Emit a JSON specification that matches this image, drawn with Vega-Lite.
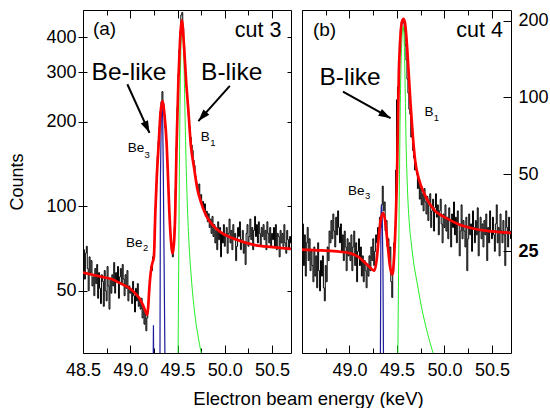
{
"$schema": "https://vega.github.io/schema/vega-lite/v6.json",
"padding": {"left": 8, "top": 9, "right": 0, "bottom": 0},
"background": "white",
"config": {"font": "Liberation Sans", "view": {"stroke": "black", "strokeWidth": 1}, "axis": {"grid": false, "labelColor": "black", "tickColor": "black", "titleColor": "black", "labelFont": "Liberation Sans", "titleFont": "Liberation Sans"}},
"title": {"text": "Electron beam energy (keV)", "orient": "bottom", "anchor": "middle", "font": "Liberation Sans", "fontSize": 18.5, "fontWeight": "normal", "color": "black", "offset": 10, "dx": 30},
"spacing": 9,
"datasets": {
"k3": [
{"e":48.50,"c":62},{"e":48.51,"c":70},{"e":48.52,"c":55},{"e":48.53,"c":68},{"e":48.54,"c":72},{"e":48.55,"c":60},{"e":48.56,"c":50},{"e":48.57,"c":66},{"e":48.58,"c":58},{"e":48.59,"c":64},{"e":48.60,"c":52},
{"e":48.61,"c":56},{"e":48.62,"c":48},{"e":48.63,"c":60},{"e":48.64,"c":53},{"e":48.65,"c":62},{"e":48.66,"c":47},{"e":48.67,"c":58},{"e":48.68,"c":51},{"e":48.69,"c":45},{"e":48.70,"c":57},
{"e":48.71,"c":54},{"e":48.72,"c":44},{"e":48.73,"c":59},{"e":48.74,"c":50},{"e":48.75,"c":46},{"e":48.76,"c":61},{"e":48.77,"c":52},{"e":48.78,"c":43},{"e":48.79,"c":55},{"e":48.80,"c":49},
{"e":48.81,"c":57},{"e":48.82,"c":52},{"e":48.83,"c":63},{"e":48.84,"c":49},{"e":48.85,"c":58},{"e":48.86,"c":54},{"e":48.87,"c":61},{"e":48.88,"c":47},{"e":48.89,"c":56},{"e":48.90,"c":60},
{"e":48.91,"c":53},{"e":48.92,"c":62},{"e":48.93,"c":55},{"e":48.94,"c":48},{"e":48.95,"c":57},{"e":48.96,"c":51},{"e":48.97,"c":59},{"e":48.98,"c":46},{"e":48.99,"c":52},{"e":49.00,"c":49},
{"e":49.01,"c":50},{"e":49.02,"c":45},{"e":49.03,"c":54},{"e":49.04,"c":48},{"e":49.05,"c":42},{"e":49.06,"c":51},{"e":49.07,"c":46},{"e":49.08,"c":53},{"e":49.09,"c":44},{"e":49.10,"c":47},
{"e":49.11,"c":43},{"e":49.12,"c":47},{"e":49.13,"c":40},{"e":49.14,"c":44},{"e":49.15,"c":38},{"e":49.16,"c":42},{"e":49.17,"c":36},{"e":49.18,"c":40},{"e":49.19,"c":45},{"e":49.20,"c":50},
{"e":49.21,"c":56},{"e":49.22,"c":61},{"e":49.23,"c":59},{"e":49.24,"c":66},{"e":49.25,"c":68},{"e":49.26,"c":84},{"e":49.27,"c":100},{"e":49.28,"c":122},{"e":49.29,"c":150},{"e":49.30,"c":170},
{"e":49.31,"c":192},{"e":49.32,"c":218},{"e":49.33,"c":236},{"e":49.34,"c":256},{"e":49.35,"c":232},{"e":49.36,"c":212},{"e":49.37,"c":190},{"e":49.38,"c":172},{"e":49.39,"c":148},{"e":49.40,"c":122},
{"e":49.41,"c":104},{"e":49.42,"c":88},{"e":49.43,"c":77},{"e":49.44,"c":70},{"e":49.45,"c":66},{"e":49.46,"c":73},{"e":49.47,"c":84},{"e":49.48,"c":115},{"e":49.49,"c":162},{"e":49.50,"c":225},
{"e":49.51,"c":295},{"e":49.52,"c":362},{"e":49.53,"c":420},{"e":49.54,"c":480},{"e":49.55,"c":490},{"e":49.56,"c":430},{"e":49.57,"c":370},{"e":49.58,"c":320},{"e":49.59,"c":282},{"e":49.60,"c":250},
{"e":49.61,"c":228},{"e":49.62,"c":210},{"e":49.63,"c":192},{"e":49.64,"c":176},{"e":49.65,"c":165},{"e":49.66,"c":158},{"e":49.67,"c":146},{"e":49.68,"c":140},{"e":49.69,"c":128},{"e":49.70,"c":122},
{"e":49.71,"c":118},{"e":49.72,"c":112},{"e":49.73,"c":120},{"e":49.74,"c":106},{"e":49.75,"c":110},{"e":49.76,"c":100},{"e":49.77,"c":104},{"e":49.78,"c":96},{"e":49.79,"c":102},{"e":49.80,"c":92},
{"e":49.81,"c":96},{"e":49.82,"c":88},{"e":49.83,"c":94},{"e":49.84,"c":84},{"e":49.85,"c":90},{"e":49.86,"c":80},{"e":49.87,"c":92},{"e":49.88,"c":78},{"e":49.89,"c":86},{"e":49.90,"c":74},
{"e":49.91,"c":82},{"e":49.92,"c":70},{"e":49.93,"c":88},{"e":49.94,"c":76},{"e":49.95,"c":84},{"e":49.96,"c":66},{"e":49.97,"c":80},{"e":49.98,"c":74},{"e":49.99,"c":86},{"e":50.00,"c":72},
{"e":50.01,"c":78},{"e":50.02,"c":84},{"e":50.03,"c":68},{"e":50.04,"c":80},{"e":50.05,"c":90},{"e":50.06,"c":74},{"e":50.07,"c":82},{"e":50.08,"c":70},{"e":50.09,"c":86},{"e":50.10,"c":76},
{"e":50.11,"c":80},{"e":50.12,"c":64},{"e":50.13,"c":72},{"e":50.14,"c":84},{"e":50.15,"c":78},{"e":50.16,"c":88},{"e":50.17,"c":70},{"e":50.18,"c":76},{"e":50.19,"c":82},{"e":50.20,"c":68},
{"e":50.21,"c":74},{"e":50.22,"c":62},{"e":50.23,"c":80},{"e":50.24,"c":86},{"e":50.25,"c":72},{"e":50.26,"c":78},{"e":50.27,"c":90},{"e":50.28,"c":76},{"e":50.29,"c":84},{"e":50.30,"c":70},
{"e":50.31,"c":82},{"e":50.32,"c":92},{"e":50.33,"c":78},{"e":50.34,"c":86},{"e":50.35,"c":74},{"e":50.36,"c":88},{"e":50.37,"c":80},{"e":50.38,"c":72},{"e":50.39,"c":84},{"e":50.40,"c":78},
{"e":50.41,"c":86},{"e":50.42,"c":76},{"e":50.43,"c":82},{"e":50.44,"c":70},{"e":50.45,"c":88},{"e":50.46,"c":80},{"e":50.47,"c":74},{"e":50.48,"c":84},{"e":50.49,"c":72},{"e":50.50,"c":80},
{"e":50.51,"c":76},{"e":50.52,"c":84},{"e":50.53,"c":72},{"e":50.54,"c":86},{"e":50.55,"c":70},{"e":50.56,"c":80},{"e":50.57,"c":78},{"e":50.58,"c":66},{"e":50.59,"c":82},{"e":50.60,"c":74},
{"e":50.61,"c":80},{"e":50.62,"c":72},{"e":50.63,"c":86},{"e":50.64,"c":74},{"e":50.65,"c":68},{"e":50.66,"c":82},{"e":50.67,"c":76},{"e":50.68,"c":70},{"e":50.69,"c":78},{"e":50.70,"c":74}
],
"k4": [
{"e":48.50,"c":26},{"e":48.51,"c":32},{"e":48.52,"c":22},{"e":48.53,"c":29},{"e":48.54,"c":20},{"e":48.55,"c":27},{"e":48.56,"c":31},{"e":48.57,"c":23},{"e":48.58,"c":28},{"e":48.59,"c":21},{"e":48.60,"c":25},
{"e":48.61,"c":22},{"e":48.62,"c":19},{"e":48.63,"c":26},{"e":48.64,"c":20},{"e":48.65,"c":24},{"e":48.66,"c":18},{"e":48.67,"c":27},{"e":48.68,"c":21},{"e":48.69,"c":17.5},{"e":48.70,"c":23},
{"e":48.71,"c":20},{"e":48.72,"c":24},{"e":48.73,"c":18},{"e":48.74,"c":16},{"e":48.75,"c":22},{"e":48.76,"c":19},{"e":48.77,"c":26},{"e":48.78,"c":23},{"e":48.79,"c":30},{"e":48.80,"c":27},
{"e":48.81,"c":33},{"e":48.82,"c":28},{"e":48.83,"c":35},{"e":48.84,"c":30},{"e":48.85,"c":26},{"e":48.86,"c":34},{"e":48.87,"c":29},{"e":48.88,"c":36},{"e":48.89,"c":31},{"e":48.90,"c":27},
{"e":48.91,"c":32},{"e":48.92,"c":25},{"e":48.93,"c":29},{"e":48.94,"c":23},{"e":48.95,"c":30},{"e":48.96,"c":26},{"e":48.97,"c":21},{"e":48.98,"c":28},{"e":48.99,"c":24},{"e":49.00,"c":27},
{"e":49.01,"c":23},{"e":49.02,"c":29},{"e":49.03,"c":21},{"e":49.04,"c":26},{"e":49.05,"c":30},{"e":49.06,"c":22},{"e":49.07,"c":27},{"e":49.08,"c":19},{"e":49.09,"c":25},{"e":49.10,"c":28},
{"e":49.11,"c":22},{"e":49.12,"c":26},{"e":49.13,"c":20},{"e":49.14,"c":24},{"e":49.15,"c":19},{"e":49.16,"c":23},{"e":49.17,"c":21},{"e":49.18,"c":18},{"e":49.19,"c":22},{"e":49.20,"c":20},
{"e":49.21,"c":24},{"e":49.22,"c":21},{"e":49.23,"c":26},{"e":49.24,"c":23},{"e":49.25,"c":28},{"e":49.26,"c":22},{"e":49.27,"c":25},{"e":49.28,"c":29},{"e":49.29,"c":27},{"e":49.30,"c":31},
{"e":49.31,"c":28},{"e":49.32,"c":34},{"e":49.33,"c":31},{"e":49.34,"c":38},{"e":49.35,"c":45},{"e":49.36,"c":36},{"e":49.37,"c":39},{"e":49.38,"c":30},{"e":49.39,"c":33},{"e":49.40,"c":26},
{"e":49.41,"c":28},{"e":49.42,"c":23},{"e":49.43,"c":26},{"e":49.44,"c":19},{"e":49.45,"c":16.5},{"e":49.46,"c":21},{"e":49.47,"c":27},{"e":49.48,"c":31},{"e":49.49,"c":52},{"e":49.50,"c":98},
{"e":49.51,"c":110},{"e":49.52,"c":140},{"e":49.53,"c":165},{"e":49.54,"c":185},{"e":49.55,"c":198},{"e":49.56,"c":202},{"e":49.57,"c":196},{"e":49.58,"c":182},{"e":49.59,"c":160},{"e":49.60,"c":140},
{"e":49.61,"c":118},{"e":49.62,"c":104},{"e":49.63,"c":90},{"e":49.64,"c":86},{"e":49.65,"c":70},{"e":49.66,"c":76},{"e":49.67,"c":62},{"e":49.68,"c":58},{"e":49.69,"c":52},{"e":49.70,"c":55},
{"e":49.71,"c":50},{"e":49.72,"c":44},{"e":49.73,"c":47},{"e":49.74,"c":40},{"e":49.75,"c":45},{"e":49.76,"c":38},{"e":49.77,"c":42},{"e":49.78,"c":36},{"e":49.79,"c":44},{"e":49.80,"c":39},
{"e":49.81,"c":35},{"e":49.82,"c":41},{"e":49.83,"c":33},{"e":49.84,"c":38},{"e":49.85,"c":42},{"e":49.86,"c":31},{"e":49.87,"c":36},{"e":49.88,"c":40},{"e":49.89,"c":30},{"e":49.90,"c":37},
{"e":49.91,"c":42},{"e":49.92,"c":34},{"e":49.93,"c":38},{"e":49.94,"c":29},{"e":49.95,"c":36},{"e":49.96,"c":40},{"e":49.97,"c":32},{"e":49.98,"c":27},{"e":49.99,"c":35},{"e":50.00,"c":31},
{"e":50.01,"c":38},{"e":50.02,"c":30},{"e":50.03,"c":34},{"e":50.04,"c":28},{"e":50.05,"c":37},{"e":50.06,"c":33},{"e":50.07,"c":26},{"e":50.08,"c":35},{"e":50.09,"c":31},{"e":50.10,"c":39},
{"e":50.11,"c":29},{"e":50.12,"c":34},{"e":50.13,"c":27},{"e":50.14,"c":36},{"e":50.15,"c":32},{"e":50.16,"c":24},{"e":50.17,"c":30},{"e":50.18,"c":38},{"e":50.19,"c":28},{"e":50.20,"c":33},
{"e":50.21,"c":30},{"e":50.22,"c":26},{"e":50.23,"c":34},{"e":50.24,"c":21},{"e":50.25,"c":28},{"e":50.26,"c":35},{"e":50.27,"c":29},{"e":50.28,"c":32},{"e":50.29,"c":25},{"e":50.30,"c":36},
{"e":50.31,"c":31},{"e":50.32,"c":27},{"e":50.33,"c":33},{"e":50.34,"c":29},{"e":50.35,"c":37},{"e":50.36,"c":24},{"e":50.37,"c":30},{"e":50.38,"c":34},{"e":50.39,"c":28},{"e":50.40,"c":32},
{"e":50.41,"c":26},{"e":50.42,"c":33},{"e":50.43,"c":29},{"e":50.44,"c":35},{"e":50.45,"c":23},{"e":50.46,"c":31},{"e":50.47,"c":27},{"e":50.48,"c":36},{"e":50.49,"c":30},{"e":50.50,"c":28},
{"e":50.51,"c":34},{"e":50.52,"c":29},{"e":50.53,"c":25},{"e":50.54,"c":32},{"e":50.55,"c":38},{"e":50.56,"c":27},{"e":50.57,"c":31},{"e":50.58,"c":24},{"e":50.59,"c":35},{"e":50.60,"c":30},
{"e":50.61,"c":27},{"e":50.62,"c":33},{"e":50.63,"c":29},{"e":50.64,"c":22},{"e":50.65,"c":36},{"e":50.66,"c":31},{"e":50.67,"c":26},{"e":50.68,"c":34},{"e":50.69,"c":30},{"e":50.70,"c":28}
],
"r3": [{"e":48.50,"c":58},{"e":48.60,"c":57},{"e":48.70,"c":56},{"e":48.80,"c":55},{"e":48.90,"c":53},{"e":49.00,"c":50.8},{"e":49.05,"c":49},{"e":49.10,"c":46.8},{"e":49.14,"c":44},{"e":49.17,"c":41.5},{"e":49.18,"c":41},{"e":49.19,"c":44},{"e":49.20,"c":50},{"e":49.215,"c":57.5},{"e":49.23,"c":62},{"e":49.25,"c":66},{"e":49.265,"c":95},{"e":49.28,"c":126},{"e":49.30,"c":166},{"e":49.32,"c":215},{"e":49.34,"c":237},{"e":49.36,"c":215},{"e":49.385,"c":166},{"e":49.40,"c":125},{"e":49.413,"c":96},{"e":49.434,"c":73},{"e":49.445,"c":68},{"e":49.455,"c":70},{"e":49.465,"c":76},{"e":49.476,"c":96},{"e":49.49,"c":166},{"e":49.51,"c":288},{"e":49.525,"c":379},{"e":49.546,"c":459},{"e":49.567,"c":379},{"e":49.588,"c":288},{"e":49.615,"c":218},{"e":49.64,"c":166},{"e":49.675,"c":137},{"e":49.71,"c":115},{"e":49.745,"c":104},{"e":49.80,"c":93},{"e":49.867,"c":86},{"e":49.95,"c":81},{"e":50.077,"c":77},{"e":50.2,"c":74.5},{"e":50.32,"c":72.7},{"e":50.5,"c":71.5},{"e":50.7,"c":70.5}],
"g3": [{"e":49.505,"c":28},{"e":49.512,"c":60},{"e":49.52,"c":140},{"e":49.53,"c":290},{"e":49.54,"c":410},{"e":49.548,"c":445},{"e":49.556,"c":420},{"e":49.565,"c":360},{"e":49.575,"c":250},{"e":49.585,"c":170},{"e":49.60,"c":110},{"e":49.62,"c":75},{"e":49.645,"c":56},{"e":49.68,"c":42},{"e":49.72,"c":34},{"e":49.77,"c":28}],
"b3": [{"e":49.242,"c":25,"s":"Be2"},{"e":49.245,"c":37.7,"s":"Be2"},{"e":49.248,"c":25,"s":"Be2"},{"e":49.314,"c":28,"s":"Be3"},{"e":49.319,"c":126,"s":"Be3"},{"e":49.328,"c":205,"s":"Be3"},{"e":49.336,"c":232,"s":"Be3"},{"e":49.343,"c":205,"s":"Be3"},{"e":49.35,"c":126,"s":"Be3"},{"e":49.367,"c":28,"s":"Be3"}],
"r4": [{"e":48.50,"c":25.4},{"e":48.70,"c":25.2},{"e":48.90,"c":24.9},{"e":49.00,"c":24.6},{"e":49.10,"c":23.7},{"e":49.15,"c":22.8},{"e":49.20,"c":21.9},{"e":49.24,"c":21.2},{"e":49.263,"c":21.0},{"e":49.285,"c":23},{"e":49.31,"c":29},{"e":49.33,"c":33.5},{"e":49.355,"c":35.3},{"e":49.375,"c":33},{"e":49.40,"c":27},{"e":49.425,"c":22},{"e":49.445,"c":20.3},{"e":49.455,"c":20.5},{"e":49.47,"c":24},{"e":49.485,"c":32},{"e":49.50,"c":50},{"e":49.51,"c":80},{"e":49.52,"c":125},{"e":49.535,"c":170},{"e":49.55,"c":196},{"e":49.568,"c":203},{"e":49.585,"c":195},{"e":49.60,"c":170},{"e":49.62,"c":130},{"e":49.642,"c":95},{"e":49.66,"c":76},{"e":49.69,"c":57},{"e":49.73,"c":48},{"e":49.79,"c":41.8},{"e":49.90,"c":36},{"e":50.00,"c":34},{"e":50.14,"c":32},{"e":50.30,"c":30.7},{"e":50.50,"c":29.9},{"e":50.70,"c":29.5}],
"g4": [{"e":49.508,"c":9},{"e":49.515,"c":18},{"e":49.525,"c":45},{"e":49.535,"c":95},{"e":49.545,"c":145},{"e":49.555,"c":178},{"e":49.566,"c":190},{"e":49.575,"c":170},{"e":49.585,"c":115},{"e":49.595,"c":68},{"e":49.61,"c":44},{"e":49.63,"c":32},{"e":49.65,"c":27},{"e":49.68,"c":22},{"e":49.71,"c":19},{"e":49.76,"c":15},{"e":49.82,"c":12},{"e":49.88,"c":10},{"e":49.92,"c":9}],
"b4": [{"e":49.325,"c":9},{"e":49.331,"c":34},{"e":49.338,"c":38},{"e":49.345,"c":33},{"e":49.352,"c":22},{"e":49.358,"c":9}],
"t3big": [{"e":48.591,"c":282.5,"t":"Be-like"},{"e":49.749,"c":282.5,"t":"B-like"}],
"t3cut": [{"e":50.599,"c":400,"t":"cut 3"}],
"t3let": [{"e":48.605,"c":429.6,"t":"(a)"}],
"t3sp": [{"e":48.972,"c":155.6,"t":"Be"},{"e":49.745,"c":170.5,"t":"B"},{"e":48.955,"c":71.7,"t":"Be"}],
"t3sub": [{"e":49.151,"c":149,"t":"3"},{"e":49.845,"c":163.7,"t":"1"},{"e":49.135,"c":69.4,"t":"2"}],
"a3": [{"e":48.969,"c":272,"e2":49.203,"c2":182.6},{"e":50.053,"c":268.5,"e2":49.72,"c2":201}],
"h3a": [{"e":49.203,"c":182.6}],
"h3b": [{"e":49.72,"c":201}],
"t4big": [{"e":48.684,"c":112.1,"t":"B-like"}],
"t4cut": [{"e":50.615,"c":172,"t":"cut 4"}],
"t4let": [{"e":48.615,"c":184.4,"t":"(b)"}],
"t4sp": [{"e":49.789,"c":84.7,"t":"B"},{"e":48.983,"c":41.7,"t":"Be"}],
"t4sub": [{"e":49.887,"c":81,"t":"1"},{"e":49.162,"c":40,"t":"3"}],
"a4": [{"e":48.931,"c":105.5,"e2":49.432,"c2":83}],
"h4": [{"e":49.432,"c":83}]
},
"hconcat": [
{
"width": 208, "height": 343,
"layer": [
{"data": {"name": "k3"}, "mark": {"type": "line", "interpolate": "step", "color": "black", "strokeWidth": 1, "clip": true},
 "encoding": {
  "x": {"field": "e", "type": "quantitative", "scale": {"domain": [48.5, 50.7], "nice": false, "zero": false}, "axis": {"orient": "bottom", "values": [48.5, 49, 49.5, 50, 50.5], "format": ".1f", "ticks": false, "tickSize": 0, "domain": false, "title": null, "labelFontSize": 18, "labelPadding": 8, "labelFlush": false, "labelOverlap": false}},
  "y": {"field": "c", "type": "quantitative", "scale": {"type": "log", "domain": [30, 500], "nice": false}, "axis": {"orient": "left", "values": [50, 100, 200, 300, 400], "ticks": false, "tickSize": 0, "domain": false, "title": "Counts", "titleFontSize": 18, "titleFontWeight": "normal", "titlePadding": 19, "labelFontSize": 18, "labelPadding": 7, "labelOverlap": false}}
 }},
{"data": {"name": "b3"}, "mark": {"type": "line", "color": "#1c1c9c", "strokeWidth": 1.2, "clip": true},
 "encoding": {
  "x": {"field": "e", "type": "quantitative", "axis": {"orient": "bottom", "values": [48.5, 49, 49.5, 50, 50.5], "labels": false, "domain": false, "title": null, "tickSize": -8}},
  "y": {"field": "c", "type": "quantitative", "axis": {"orient": "right", "values": [50, 100, 200, 300, 400], "labels": false, "domain": false, "title": null, "tickSize": -4}},
  "detail": {"field": "s"}
 }},
{"data": {"name": "g3"}, "mark": {"type": "line", "color": "#22ee22", "strokeWidth": 1, "interpolate": "monotone", "clip": true},
 "encoding": {
  "x": {"field": "e", "type": "quantitative", "axis": {"orient": "bottom", "values": [48.75, 49.25, 49.75, 50.25], "labels": false, "domain": false, "title": null, "tickSize": -5}},
  "y": {"field": "c", "type": "quantitative", "axis": {"orient": "left", "values": [50, 100, 200, 300, 400], "labels": false, "domain": false, "title": null, "tickSize": -4}}
 }},
{"data": {"name": "r3"}, "mark": {"type": "line", "color": "#ff0000", "strokeWidth": 2.7, "interpolate": "monotone", "clip": true},
 "encoding": {
  "x": {"field": "e", "type": "quantitative", "axis": {"orient": "top", "values": [48.5, 49, 49.5, 50, 50.5], "labels": false, "domain": false, "title": null, "tickSize": -8}},
  "y": {"field": "c", "type": "quantitative", "axis": {"orient": "left", "values": [50, 100, 200, 300, 400], "labels": false, "domain": false, "title": null, "tickSize": 5}}
 }},
{"data": {"name": "t3big"}, "mark": {"type": "text", "align": "left", "baseline": "alphabetic", "fontSize": 24.5, "color": "black"},
 "encoding": {
  "x": {"field": "e", "type": "quantitative", "axis": {"orient": "top", "values": [48.75, 49.25, 49.75, 50.25], "labels": false, "domain": false, "title": null, "tickSize": -5}},
  "y": {"field": "c", "type": "quantitative", "axis": null},
  "text": {"field": "t"}
 }},
{"data": {"name": "t3cut"}, "mark": {"type": "text", "align": "right", "baseline": "alphabetic", "fontSize": 21.5, "color": "black"},
 "encoding": {"x": {"field": "e", "type": "quantitative", "axis": null}, "y": {"field": "c", "type": "quantitative", "axis": null}, "text": {"field": "t"}}},
{"data": {"name": "t3let"}, "mark": {"type": "text", "align": "left", "baseline": "middle", "fontSize": 19, "color": "black"},
 "encoding": {"x": {"field": "e", "type": "quantitative", "axis": null}, "y": {"field": "c", "type": "quantitative", "axis": null}, "text": {"field": "t"}}},
{"data": {"name": "t3sp"}, "mark": {"type": "text", "align": "left", "baseline": "alphabetic", "fontSize": 13.5, "color": "black"},
 "encoding": {"x": {"field": "e", "type": "quantitative", "axis": null}, "y": {"field": "c", "type": "quantitative", "axis": null}, "text": {"field": "t"}}},
{"data": {"name": "t3sub"}, "mark": {"type": "text", "align": "left", "baseline": "alphabetic", "fontSize": 9.5, "color": "black"},
 "encoding": {"x": {"field": "e", "type": "quantitative", "axis": null}, "y": {"field": "c", "type": "quantitative", "axis": null}, "text": {"field": "t"}}},
{"data": {"name": "a3"}, "mark": {"type": "rule", "color": "black", "strokeWidth": 2},
 "encoding": {"x": {"field": "e", "type": "quantitative", "axis": null}, "y": {"field": "c", "type": "quantitative", "axis": null}, "x2": {"field": "e2"}, "y2": {"field": "c2"}}},
{"data": {"name": "h3a"}, "mark": {"type": "point", "shape": "M0,0L0.33,1L-0.33,1Z", "filled": true, "color": "black", "size": 576, "angle": 155, "opacity": 1},
 "encoding": {"x": {"field": "e", "type": "quantitative", "axis": null}, "y": {"field": "c", "type": "quantitative", "axis": null}}},
{"data": {"name": "h3b"}, "mark": {"type": "point", "shape": "M0,0L0.33,1L-0.33,1Z", "filled": true, "color": "black", "size": 576, "angle": 222, "opacity": 1},
 "encoding": {"x": {"field": "e", "type": "quantitative", "axis": null}, "y": {"field": "c", "type": "quantitative", "axis": null}}}
],
"resolve": {"axis": {"x": "independent", "y": "independent"}}
},
{
"width": 209, "height": 343,
"layer": [
{"data": {"name": "k4"}, "mark": {"type": "line", "interpolate": "step", "color": "black", "strokeWidth": 1, "clip": true},
 "encoding": {
  "x": {"field": "e", "type": "quantitative", "scale": {"domain": [48.5, 50.7], "nice": false, "zero": false}, "axis": {"orient": "bottom", "values": [49, 49.5, 50, 50.5], "format": ".1f", "ticks": false, "tickSize": 0, "domain": false, "title": null, "labelFontSize": 18, "labelPadding": 8, "labelFlush": false, "labelOverlap": false}},
  "y": {"field": "c", "type": "quantitative", "scale": {"type": "log", "domain": [10, 220], "nice": false}, "axis": {"orient": "right", "values": [25, 50, 100, 200], "ticks": false, "tickSize": 0, "domain": false, "title": null, "labelFontSize": 18, "labelPadding": 7, "labelOverlap": false, "labelFontWeight": {"condition": {"test": "datum.value == 25", "value": "bold"}, "value": "normal"}}}
 }},
{"data": {"name": "b4"}, "mark": {"type": "line", "color": "#1c1c9c", "strokeWidth": 1.2, "clip": true},
 "encoding": {
  "x": {"field": "e", "type": "quantitative", "axis": {"orient": "bottom", "values": [48.5, 49, 49.5, 50, 50.5], "labels": false, "domain": false, "title": null, "tickSize": -8}},
  "y": {"field": "c", "type": "quantitative", "axis": {"orient": "right", "values": [25, 50, 100, 200], "labels": false, "domain": false, "title": null, "tickSize": -8}}
 }},
{"data": {"name": "g4"}, "mark": {"type": "line", "color": "#22ee22", "strokeWidth": 1, "interpolate": "monotone", "clip": true},
 "encoding": {
  "x": {"field": "e", "type": "quantitative", "axis": {"orient": "bottom", "values": [48.75, 49.25, 49.75, 50.25], "labels": false, "domain": false, "title": null, "tickSize": -5}},
  "y": {"field": "c", "type": "quantitative", "axis": null}
 }},
{"data": {"name": "r4"}, "mark": {"type": "line", "color": "#ff0000", "strokeWidth": 2.7, "interpolate": "monotone", "clip": true},
 "encoding": {
  "x": {"field": "e", "type": "quantitative", "axis": {"orient": "top", "values": [48.5, 49, 49.5, 50, 50.5], "labels": false, "domain": false, "title": null, "tickSize": -8}},
  "y": {"field": "c", "type": "quantitative", "axis": null}
 }},
{"data": {"name": "t4big"}, "mark": {"type": "text", "align": "left", "baseline": "alphabetic", "fontSize": 24.5, "color": "black"},
 "encoding": {
  "x": {"field": "e", "type": "quantitative", "axis": {"orient": "top", "values": [48.75, 49.25, 49.75, 50.25], "labels": false, "domain": false, "title": null, "tickSize": -5}},
  "y": {"field": "c", "type": "quantitative", "axis": null},
  "text": {"field": "t"}
 }},
{"data": {"name": "t4cut"}, "mark": {"type": "text", "align": "right", "baseline": "alphabetic", "fontSize": 21.5, "color": "black"},
 "encoding": {"x": {"field": "e", "type": "quantitative", "axis": null}, "y": {"field": "c", "type": "quantitative", "axis": null}, "text": {"field": "t"}}},
{"data": {"name": "t4let"}, "mark": {"type": "text", "align": "left", "baseline": "middle", "fontSize": 19, "color": "black"},
 "encoding": {"x": {"field": "e", "type": "quantitative", "axis": null}, "y": {"field": "c", "type": "quantitative", "axis": null}, "text": {"field": "t"}}},
{"data": {"name": "t4sp"}, "mark": {"type": "text", "align": "left", "baseline": "alphabetic", "fontSize": 13.5, "color": "black"},
 "encoding": {"x": {"field": "e", "type": "quantitative", "axis": null}, "y": {"field": "c", "type": "quantitative", "axis": null}, "text": {"field": "t"}}},
{"data": {"name": "t4sub"}, "mark": {"type": "text", "align": "left", "baseline": "alphabetic", "fontSize": 9.5, "color": "black"},
 "encoding": {"x": {"field": "e", "type": "quantitative", "axis": null}, "y": {"field": "c", "type": "quantitative", "axis": null}, "text": {"field": "t"}}},
{"data": {"name": "a4"}, "mark": {"type": "rule", "color": "black", "strokeWidth": 2},
 "encoding": {"x": {"field": "e", "type": "quantitative", "axis": null}, "y": {"field": "c", "type": "quantitative", "axis": null}, "x2": {"field": "e2"}, "y2": {"field": "c2"}}},
{"data": {"name": "h4"}, "mark": {"type": "point", "shape": "M0,0L0.33,1L-0.33,1Z", "filled": true, "color": "black", "size": 576, "angle": 119, "opacity": 1},
 "encoding": {"x": {"field": "e", "type": "quantitative", "axis": null}, "y": {"field": "c", "type": "quantitative", "axis": null}}}
],
"resolve": {"axis": {"x": "independent", "y": "independent"}}
}
]
}
